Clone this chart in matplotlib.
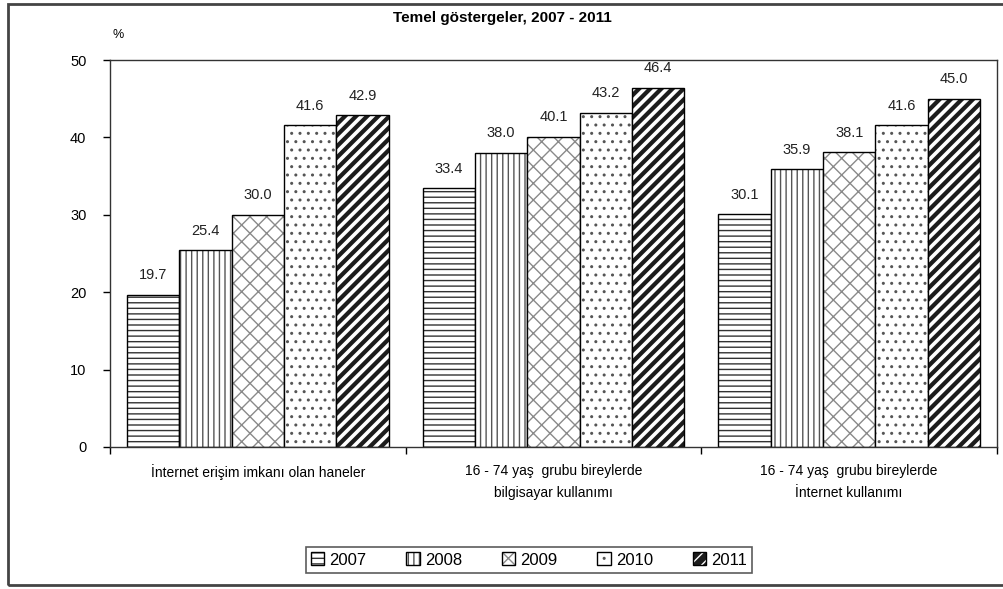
"""Temel göstergeler, 2007 - 2011 bar chart."""

import matplotlib.pyplot as plt
import numpy as np
from matplotlib.colors import to_rgba
from matplotlib.patches import Rectangle

plt.rcParams["font.family"] = ["Liberation Sans", "DejaVu Sans"]
plt.rcParams["hatch.linewidth"] = 1.0

categories = [
    "İnternet erişim imkanı olan haneler",
    "16 - 74 yaş  grubu bireylerde\nbilgisayar kullanımı",
    "16 - 74 yaş  grubu bireylerde\nİnternet kullanımı",
]
years = ["2007", "2008", "2009", "2010", "2011"]
values = {
    "2007": [19.7, 33.4, 30.1],
    "2008": [25.4, 38.0, 35.9],
    "2009": [30.0, 40.1, 38.1],
    "2010": [41.6, 43.2, 41.6],
    "2011": [42.9, 46.4, 45.0],
}
yticks = [0, 10, 20, 30, 40, 50]

hatches = ["---", "|||", "xx", "..", "///"]
facecolors = ["white", "white", "white", "white", "#1c1c1c"]
hatchcolors = ["#333333", "#555555", "#8a8a8a", "#555555", "white"]
hatchwidths = [1.0, 1.0, 1.0, 1.0, 2.6]

fig = plt.figure(figsize=(10.04, 5.89), dpi=100)
fig.patches.append(Rectangle((8 / 1004, 4 / 589), 1.2, 581 / 589, transform=fig.transFigure,
                             fill=False, edgecolor="#444444", linewidth=2.0))

ax = fig.add_axes([110 / 1004, 1 - 447 / 589, 887 / 1004, 387 / 589])
x = np.arange(len(categories))
width = 0.177
for i, year in enumerate(years):
    pos = x + (i - 2) * width
    bars = ax.bar(pos, values[year], width=width, color=facecolors[i], edgecolor="black",
                  linewidth=1.0, hatch=hatches[i], label=year)
    for b in bars:
        b._hatch_color = to_rgba(hatchcolors[i])
        if hasattr(b, "set_hatch_linewidth"):
            b.set_hatch_linewidth(hatchwidths[i])
    for p, v in zip(pos, values[year]):
        ax.text(p, v + 1.6, f"{v:.1f}", ha="center", va="bottom", fontsize=10.5, color="#222222")

ax.set_xlim(-0.5, 2.5)
ax.set_ylim(0, 50)
ax.set_yticks(yticks)
ax.tick_params(axis="y", labelsize=10.5, length=5, width=1, direction="out", pad=12)
ax.set_xticks([-0.5, 0.5, 1.5, 2.5])
ax.set_xticklabels([])
ax.tick_params(axis="x", length=5, width=1, direction="out")
ax.set_xticks(x, minor=True)
ax.set_xticklabels(categories, minor=True, fontsize=10, linespacing=1.8)
ax.tick_params(axis="x", which="minor", length=0, pad=12)
for s in ax.spines.values():
    s.set_linewidth(1.0)
    s.set_color("#333333")

fig.text(0.5, 1 - 18 / 589, "Temel göstergeler, 2007 - 2011", ha="center", va="center",
         fontsize=11, fontweight="bold")
fig.text(118 / 1004, 1 - 35 / 589, "%", ha="center", va="center", fontsize=9)

leg = fig.legend(loc="center", bbox_to_anchor=(529 / 1004, 1 - 560 / 589), ncol=5,
                 fontsize=12, frameon=True, fancybox=False, edgecolor="#333333",
                 handlelength=0.8, handleheight=0.8, handletextpad=0.3, columnspacing=2.4,
                 borderpad=0.3)
leg.get_frame().set_linewidth(1.2)

fig.savefig("out.png", dpi=100)
